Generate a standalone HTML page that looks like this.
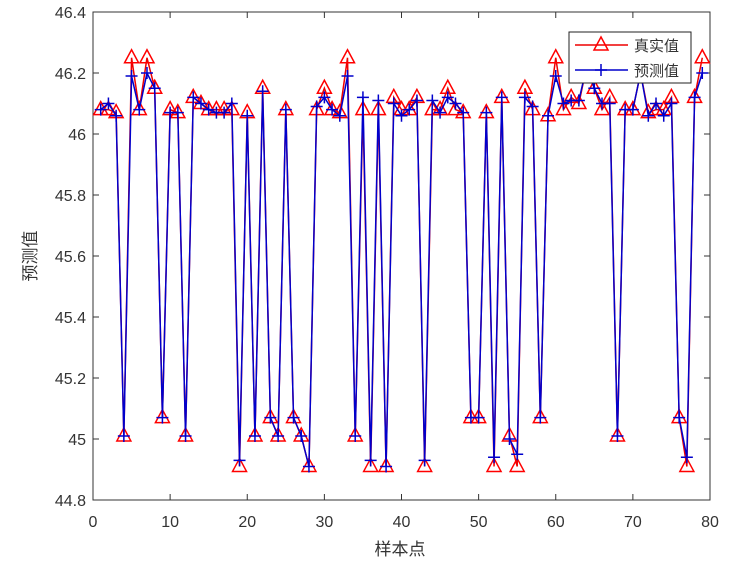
<!DOCTYPE html>
<html><head><meta charset="utf-8"><style>
body{margin:0;background:#fff}
svg text{font-family:"Liberation Sans","Noto Sans CJK SC",sans-serif;fill:#333}
</style></head><body>
<svg id="s" width="731" height="568" xmlns="http://www.w3.org/2000/svg"></svg>
<script>
const T=[46.08,46.08,46.07,45.01,46.25,46.08,46.25,46.15,45.07,46.08,46.07,45.01,46.12,46.10,46.08,46.08,46.08,46.08,44.91,46.07,45.01,46.15,45.07,45.01,46.08,45.07,45.01,44.91,46.08,46.15,46.08,46.07,46.25,45.01,46.08,44.91,46.08,44.91,46.12,46.08,46.08,46.12,44.91,46.08,46.08,46.15,46.08,46.07,45.07,45.07,46.07,44.91,46.12,45.01,44.91,46.15,46.08,45.07,46.06,46.25,46.08,46.12,46.10,46.22,46.15,46.08,46.12,45.01,46.08,46.08,46.20,46.07,46.08,46.08,46.12,45.07,44.91,46.12,46.25];
const P=[46.08,46.10,46.06,45.01,46.19,46.08,46.20,46.15,45.07,46.07,46.07,45.01,46.12,46.10,46.08,46.07,46.07,46.10,44.93,46.06,45.01,46.14,45.07,45.01,46.08,45.07,45.01,44.91,46.09,46.12,46.08,46.06,46.19,45.01,46.12,44.93,46.11,44.91,46.10,46.06,46.08,46.11,44.93,46.11,46.07,46.12,46.10,46.07,45.07,45.07,46.07,44.94,46.12,45.00,44.95,46.12,46.09,45.07,46.06,46.19,46.10,46.11,46.11,46.22,46.15,46.10,46.10,45.01,46.08,46.08,46.20,46.06,46.10,46.06,46.10,45.07,44.94,46.12,46.20];
const X=v=>93+v*(617/80), Y=v=>500-(v-44.8)*305;
let h='';
h+=`<rect x="93" y="12" width="617" height="488" fill="#fff" stroke="#333" stroke-width="1"/>`;
for(let i=0;i<=8;i++){const x=X(i*10);h+=`<line x1="${x}" y1="500" x2="${x}" y2="494" stroke="#333"/><line x1="${x}" y1="12" x2="${x}" y2="18" stroke="#333"/><text x="${x}" y="527" font-size="16" text-anchor="middle">${i*10}</text>`;}
for(let i=0;i<=8;i++){const v=44.8+i*0.2,y=Y(v);h+=`<line x1="93" y1="${y}" x2="99" y2="${y}" stroke="#333"/><line x1="710" y1="${y}" x2="704" y2="${y}" stroke="#333"/><text x="86" y="${y+6}" font-size="16" text-anchor="end">${(Math.round(v*10)/10).toString()}</text>`;}
let pt=T.map((v,i)=>X(i+1)+','+Y(v)).join(' ');
h+=`<polyline points="${pt}" fill="none" stroke="#e00" stroke-width="1.5"/>`;
T.forEach((v,i)=>{const x=X(i+1),y=Y(v);h+=`<polygon points="${x},${y-8} ${x-7},${y+5} ${x+7},${y+5}" fill="none" stroke="#f00" stroke-width="1.5"/>`;});
let pp=P.map((v,i)=>X(i+1)+','+Y(v)).join(' ');
h+=`<polyline points="${pp}" fill="none" stroke="#00c" stroke-width="1.5"/>`;
P.forEach((v,i)=>{const x=X(i+1),y=Y(v);h+=`<path d="M${x-6} ${y}H${x+6}M${x} ${y-6}V${y+6}" stroke="#00c" stroke-width="1.5"/>`;});
h+=`<rect x="569" y="32" width="122" height="51" fill="#fff" stroke="#222"/>`;
h+=`<line x1="575" y1="45" x2="628" y2="45" stroke="#e00" stroke-width="1.5"/><polygon points="601,37 594,50 608,50" fill="none" stroke="#f00" stroke-width="1.5"/><text x="634" y="51" font-size="15">真实值</text>`;
h+=`<line x1="575" y1="70" x2="628" y2="70" stroke="#00c" stroke-width="1.5"/><path d="M595 70H607M601 64V76" stroke="#00c" stroke-width="1.5"/><text x="634" y="76" font-size="15">预测值</text>`;
h+=`<text x="400" y="555" font-size="17" text-anchor="middle">样本点</text>`;
h+=`<text transform="translate(36,256) rotate(-90)" font-size="17" text-anchor="middle">预测值</text>`;
document.getElementById('s').innerHTML=h;
</script>
</body></html>
